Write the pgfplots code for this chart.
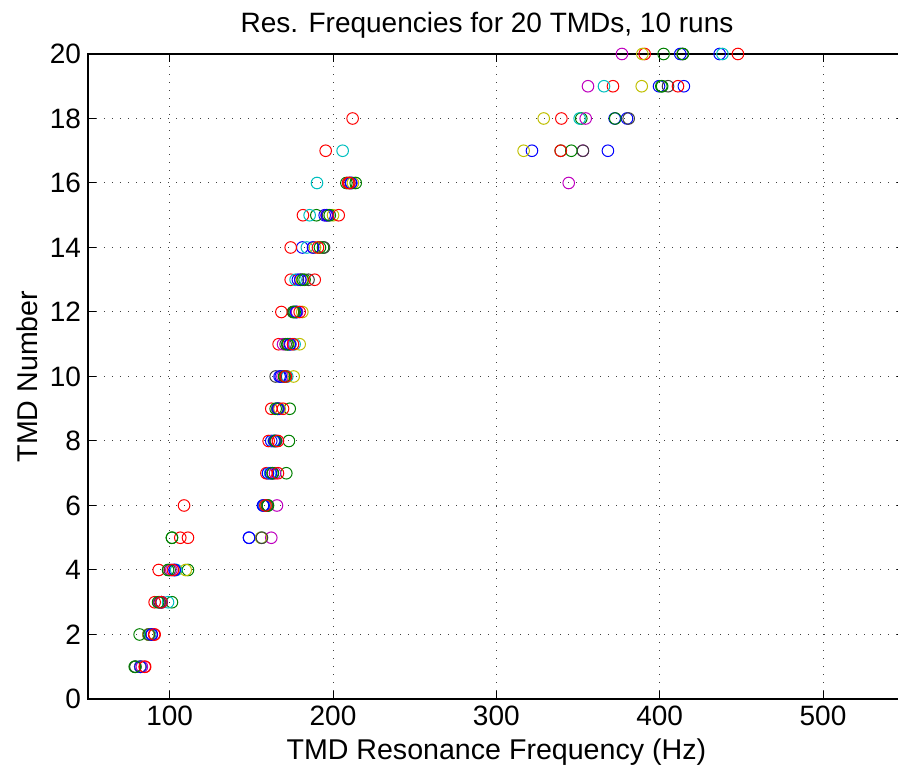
\documentclass[border=0pt]{standalone}
\usepackage{pgfplots}
\pgfplotsset{compat=1.18}
\usepackage{pgfplotstable}
\usepackage{fontspec}
\setmainfont{Liberation Sans}
\definecolor{mb}{rgb}{0,0,1}
\definecolor{mg}{rgb}{0,0.5,0}
\definecolor{mr}{rgb}{1,0,0}
\definecolor{mc}{rgb}{0,0.75,0.75}
\definecolor{mm}{rgb}{0.75,0,0.75}
\definecolor{my}{rgb}{0.75,0.75,0}
\definecolor{mk}{rgb}{0.25,0.25,0.25}

\pgfplotstableread{
tmd r1 r2 r3 r4 r5 r6 r7 r8 r9 r10
1 82 79 85 82 83 82 79 82.1 78.6 84.7
2 89 87 90.5 88 89 87 87.3 89 81.6 90.8
3 95 101.4 90.8 99 93.5 95 94 95 92.9 94.9
4 103 111.2 93.3 104 101 109.8 100 103.1 99 102
5 148.6 101.4 106.5 156.1 162.2 156 156.5 148.6 101.4 111.2
6 157.1 160 108.8 158 165.7 159 159.5 157.5 160.2 158.6
7 160.2 171.4 159.2 161.5 164.5 163 163 162 163.2 166.3
8 162.2 173 160.6 163.7 165.3 164 164.5 164 165 166.3
9 166 173.5 162.2 166 167 167.3 166 166.5 164.9 169.4
10 167.3 170 171.4 172 169 175.9 164.9 168 170.5 171
11 173.9 172.4 166.7 176.5 169.4 179.6 171 173.5 172 175.5
12 177.5 175.5 168.4 177 178 181.2 176 177.5 176.5 179.6
13 178.5 182.6 174.1 177.1 180 181 185 180 181.5 188.8
14 181.2 193.9 174.1 184 187.8 189 194.5 187.8 192 190.8
15 194.9 189.8 181.6 185.7 196 200 197 196.3 198 203.5
16 211.2 208.2 209.2 190.2 344.3 212.2 210 211 213.9 210
17 321.8 339.4 195.5 205.9 353 316.7 353 368.3 345.9 339.4
18 380 352 212 351 354.7 329 381 372.4 372.8 339.8
19 399.6 401 371.4 365.9 356.1 389 405.1 414.8 401.5 411.2
20 436.7 402.4 390.8 438.4 376.9 389.4 414 412.6 414.2 447.9
}\data

\begin{document}
\begin{tikzpicture}
\begin{axis}[
  scale only axis,
  width=408.35pt, height=322.5pt,
  xmin=50, xmax=550, ymin=0, ymax=20,
  xtick={100,200,300,400,500},
  ytick={0,2,4,6,8,10,12,14,16,18,20},
  grid=major,
  grid style={line width=0.5pt, dash pattern=on 0.5pt off 3.5pt, black!75},
  tick align=inside,
  major tick length=4pt,
  every tick/.style={black, line width=0.5pt},
  axis line style={line width=0.7pt, black},
  /pgf/number format/assume math mode=true,
  ticklabel style={font=\fontsize{14}{16}\selectfont},
  xlabel={TMD Resonance Frequency (Hz)},
  ylabel={TMD Number},
  title={Res. Frequencies for 20 TMDs, 10 runs},
  xlabel style={font=\fontsize{14.3}{16}\selectfont, at={(axis description cs:0.5,-0.05)}, anchor=north},
  ylabel style={font=\fontsize{14.3}{16}\selectfont, at={(axis description cs:-0.0747,0.5)}, anchor=center},
  title style={font=\fontsize{14}{16}\selectfont, at={(axis description cs:0.4886,1.034)}, anchor=base, yshift=-6pt},
  clip=false,
  every axis plot/.append style={only marks, mark=o, mark size=2.9pt, line width=0.5pt},
]
\addplot[mb] table[x=r1,y=tmd]{\data};
\addplot[mg] table[x=r2,y=tmd]{\data};
\addplot[mr] table[x=r3,y=tmd]{\data};
\addplot[mc] table[x=r4,y=tmd]{\data};
\addplot[mm] table[x=r5,y=tmd]{\data};
\addplot[my] table[x=r6,y=tmd]{\data};
\addplot[mk] table[x=r7,y=tmd]{\data};
\addplot[mb] table[x=r8,y=tmd]{\data};
\addplot[mg] table[x=r9,y=tmd]{\data};
\addplot[mr] table[x=r10,y=tmd]{\data};
\coordinate (SW) at (rel axis cs:0,0);
\end{axis}
\pgfresetboundingbox
\useasboundingbox ([shift={(-44pt,-35pt)}]SW) rectangle ([shift={(405pt,349.5pt)}]SW);
\end{tikzpicture}
\end{document}
